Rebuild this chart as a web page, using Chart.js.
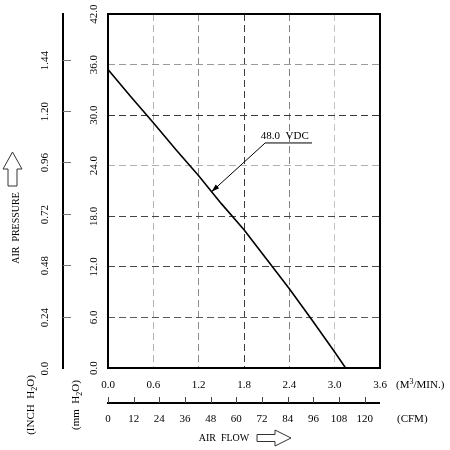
<!DOCTYPE html>
<html>
<head>
<meta charset="utf-8">
<script src="https://cdn.jsdelivr.net/npm/chart.js@4.4.1/dist/chart.umd.min.js"></script>
<style>
body { margin: 0; background: #fff; }
</style>
</head>
<body>
<canvas id="fan_curve" width="450" height="450"></canvas>
<script>
// P-Q curve, air flow (m3/min) against static pressure (mm H2O)
const flow_m3 = [0, 0.3, 0.6, 0.9, 1.2, 1.5, 1.8, 2.1, 2.4, 2.7, 3.0, 3.145];
const pressure_mm = [35.4, 32.2, 29.1, 25.9, 22.8, 19.5, 16.4, 12.9, 9.4, 5.7, 1.9, 0];
const curve_name = "48.0  VDC";

const mm_ticks = ["0.0", "6.0", "12.0", "18.0", "24.0", "30.0", "36.0", "42.0"];
const inch_ticks = ["0.0", "0.24", "0.48", "0.72", "0.96", "1.20", "1.44"];
const m3_ticks = ["0.0", "0.6", "1.2", "1.8", "2.4", "3.0", "3.6"];
const cfm_ticks = ["0", "12", "24", "36", "48", "60", "72", "84", "96", "108", "120"];

const FONT = '"Liberation Serif", "DejaVu Serif", serif';
const MM_PER_INCH = 25.4;
const CFM_PER_M3 = 35.3147;

// dashed grid shades, they vary a bit in the original
const v_grid = ["rgba(0,0,0,0)", "#b4b4b4", "#8c8c8c", "#3c3c3c", "#828282", "#c4c4c4", "rgba(0,0,0,0)"];
const h_grid = ["rgba(0,0,0,0)", "#5a5a5a", "#484848", "#444444", "#b0b0b0", "#383838", "#9a9a9a", "rgba(0,0,0,0)"];

const ctx = document.getElementById("fan_curve").getContext("2d");

function richText(c, parts, x, y, rot, align, size){
    c.save();
    c.translate(x, y);
    if(rot) c.rotate(rot);
    c.fillStyle = "#000";
    c.textBaseline = "alphabetic";
    c.textAlign = "left";
    let w = 0;
    parts.forEach(p => {
        c.font = (p[1] ? size - 3 : size) + "px " + FONT;
        w += c.measureText(p[0]).width;
    });
    let cx = align === "center" ? -w / 2 : 0;
    parts.forEach(p => {
        c.font = (p[1] ? size - 3 : size) + "px " + FONT;
        let dy = p[1] === "sub" ? 3 : (p[1] === "sup" ? -4 : 0);
        c.fillText(p[0], cx, 4 + dy);
        cx += c.measureText(p[0]).width;
    });
    c.restore();
}

function hollowArrow(c, pts){
    c.save();
    c.beginPath();
    c.moveTo(pts[0][0], pts[0][1]);
    for(let i = 1; i < pts.length; i++) c.lineTo(pts[i][0], pts[i][1]);
    c.closePath();
    c.fillStyle = "#fff";
    c.fill();
    c.strokeStyle = "#333";
    c.lineWidth = 1;
    c.stroke();
    c.restore();
}

const extras = {
    id: "extras",
    afterDraw(chart){
        const c = chart.ctx;
        const area = chart.chartArea;
        const xs = chart.scales.x, ys = chart.scales.y;
        const xc = chart.scales.xcfm, yi = chart.scales.yinch;

        // frame
        c.save();
        c.strokeStyle = "#000";
        c.lineWidth = 2;
        c.strokeRect(area.left, area.top, area.right - area.left, area.bottom - area.top);

        // mm labels, rotated
        c.font = "11px " + FONT;
        c.fillStyle = "#000";
        c.textAlign = "center";
        c.textBaseline = "middle";
        mm_ticks.forEach(t => {
            const py = ys.getPixelForValue(parseFloat(t));
            c.save(); c.translate(94, py); c.rotate(-Math.PI / 2); c.fillText(t, 0, 0); c.restore();
        });

        // inch axis
        const ax = 63;
        c.lineWidth = 2;
        c.beginPath();
        c.moveTo(ax, yi.getPixelForValue(yi.max) - 1);
        c.lineTo(ax, yi.getPixelForValue(0) + 1);
        c.stroke();
        c.lineWidth = 1;
        c.strokeStyle = "#777";
        inch_ticks.forEach(t => {
            const v = parseFloat(t);
            const py = Math.round(yi.getPixelForValue(v)) + 0.5;
            if(v > 0){
                c.beginPath(); c.moveTo(ax, py); c.lineTo(ax + 8, py); c.stroke();
            }
            c.save(); c.translate(45, py); c.rotate(-Math.PI / 2); c.fillText(t, 0, 0); c.restore();
        });

        // CFM axis
        const cy = 403;
        c.strokeStyle = "#000";
        c.lineWidth = 2;
        c.beginPath();
        c.moveTo(xc.getPixelForValue(0) - 1, cy);
        c.lineTo(xc.getPixelForValue(xc.max), cy);
        c.stroke();
        c.lineWidth = 1;
        c.strokeStyle = "#444";
        cfm_ticks.forEach(t => {
            const px = Math.round(xc.getPixelForValue(parseFloat(t))) + 0.5;
            c.beginPath(); c.moveTo(px, cy); c.lineTo(px, cy - 6); c.stroke();
        });
        c.restore();

        // titles
        richText(c, [["AIR  PRESSURE"]], 15, 228, -Math.PI / 2, "center", 10);
        hollowArrow(c, [[12.5, 152], [22, 169], [17, 169], [17, 186], [8, 186], [8, 169], [3, 169]]);
        richText(c, [["(INCH  H"], ["2", "sub"], ["O)"]], 30, 405, -Math.PI / 2, "center", 11);
        richText(c, [["(mm  H"], ["2", "sub"], ["O)"]], 75, 405, -Math.PI / 2, "center", 11);
        richText(c, [["(M"], ["3", "sup"], ["/MIN.)"]], 396, 384, 0, "left", 11);
        richText(c, [["(CFM)"]], 397, 418, 0, "left", 11);
        richText(c, [["AIR  FLOW"]], 224, 437, 0, "center", 10);
        hollowArrow(c, [[257, 434.5], [275, 434.5], [275, 430], [291, 438], [275, 446], [275, 441.5], [257, 441.5]]);

        // curve label with leader
        const tip = [xs.getPixelForValue(1.37), ys.getPixelForValue(20.9)];
        const knee = [xs.getPixelForValue(2.08), ys.getPixelForValue(26.7)];
        const lineEnd = xs.getPixelForValue(2.70);
        c.save();
        c.strokeStyle = "#000";
        c.lineWidth = 1;
        c.beginPath();
        c.moveTo(lineEnd, knee[1]);
        c.lineTo(knee[0], knee[1]);
        c.lineTo(tip[0], tip[1]);
        c.stroke();
        const ang = Math.atan2(tip[1] - knee[1], tip[0] - knee[0]);
        c.beginPath();
        c.moveTo(tip[0], tip[1]);
        c.lineTo(tip[0] - 8 * Math.cos(ang) + 2.5 * Math.sin(ang), tip[1] - 8 * Math.sin(ang) - 2.5 * Math.cos(ang));
        c.lineTo(tip[0] - 8 * Math.cos(ang) - 2.5 * Math.sin(ang), tip[1] - 8 * Math.sin(ang) + 2.5 * Math.cos(ang));
        c.closePath();
        c.fillStyle = "#000";
        c.fill();
        c.restore();
        richText(c, [[curve_name]], xs.getPixelForValue(2.34), ys.getPixelForValue(27.6), 0, "center", 11);
    }
};

const points = flow_m3.map((f, i) => ({x: f, y: pressure_mm[i]}));

new Chart(ctx, {
    type: "scatter",
    data: {
        datasets: [{
            label: curve_name,
            data: points,
            showLine: true,
            borderColor: "#000",
            borderWidth: 1.6,
            pointRadius: 0,
            tension: 0
        }]
    },
    options: {
        responsive: false,
        animation: false,
        layout: { padding: { top: 14, right: 70, left: 0, bottom: 0 } },
        plugins: { legend: { display: false }, tooltip: { enabled: false } },
        scales: {
            x: {
                type: "linear", position: "bottom", weight: 0,
                min: 0, max: 3.6,
                ticks: {
                    stepSize: 0.6, autoSkip: false, maxRotation: 0, padding: 11,
                    color: "#000", font: { family: FONT, size: 11 },
                    callback: v => m3_ticks[Math.round(v / 0.6)]
                },
                grid: { drawTicks: false, lineWidth: 1, color: c => v_grid[c.index] },
                border: { display: false, dash: [7, 4] },
                afterFit: s => { s.height = 26; }
            },
            xcfm: {
                type: "linear", position: "bottom", weight: 1,
                min: 0, max: 3.6 * CFM_PER_M3,
                ticks: {
                    stepSize: 12, autoSkip: false, maxRotation: 0, includeBounds: false, padding: 19,
                    color: "#000", font: { family: FONT, size: 11 },
                    callback: v => cfm_ticks[Math.round(v / 12)]
                },
                grid: { display: false, drawTicks: false },
                border: { display: false },
                afterFit: s => { s.height = 56; }
            },
            y: {
                type: "linear", position: "left", weight: 0,
                min: 0, max: 42,
                ticks: { stepSize: 6, display: false },
                grid: { drawTicks: false, lineWidth: 1, color: c => h_grid[c.index] },
                border: { display: false, dash: [7, 4] },
                afterFit: s => { s.width = 45; }
            },
            yinch: {
                type: "linear", position: "left", weight: 1,
                min: 0, max: 42 / MM_PER_INCH,
                ticks: { stepSize: 0.24, display: false },
                grid: { display: false, drawTicks: false },
                border: { display: false },
                afterFit: s => { s.width = 63; }
            }
        }
    },
    plugins: [extras]
});
</script>
</body>
</html>
